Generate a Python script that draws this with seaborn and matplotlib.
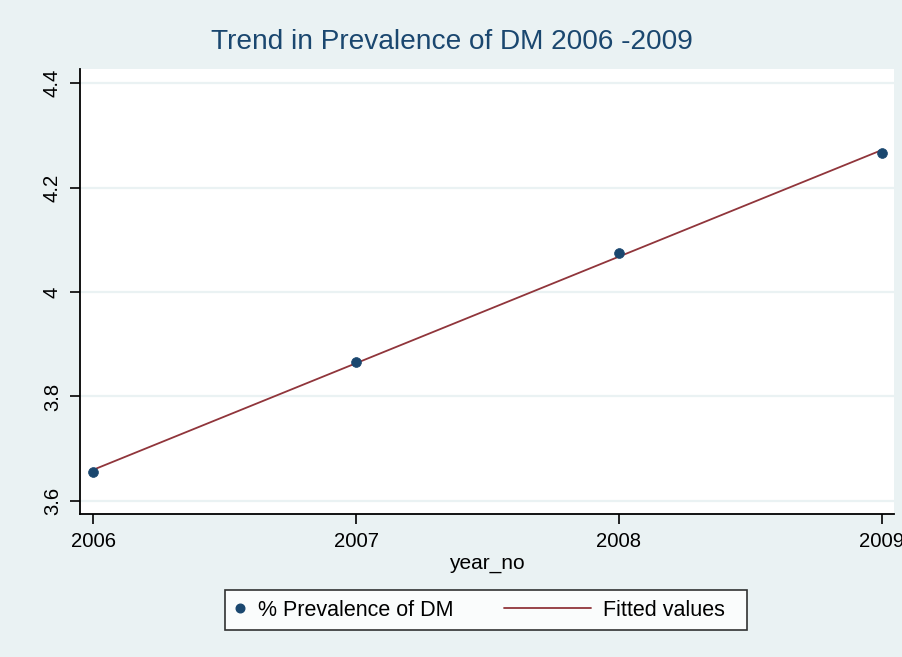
import matplotlib
matplotlib.use("Agg")
import matplotlib.pyplot as plt
import seaborn as sns
import numpy as np
import pandas as pd
from matplotlib.lines import Line2D
from matplotlib.legend_handler import HandlerLine2D

years = [2006, 2007, 2008, 2009]
prevalence = [3.656, 3.866, 4.074, 4.267]
y_ticks = [3.6, 3.8, 4.0, 4.2, 4.4]
y_tick_labels = ["3.6", "3.8", "4", "4.2", "4.4"]
x_ticks = [2006, 2007, 2008, 2009]
legend_labels = ["% Prevalence of DM", "Fitted values"]

BG = "#EAF2F3"
NAVY = "#1A476F"
MAROON = "#90353B"

sns.set_theme(style="white")
plt.rcParams["font.family"] = ["Liberation Sans", "DejaVu Sans"]
plt.rcParams["text.color"] = "black"
plt.rcParams["axes.labelcolor"] = "black"
plt.rcParams["xtick.color"] = "black"
plt.rcParams["ytick.color"] = "black"

df = pd.DataFrame({"year_no": years, "prev": prevalence})

fig = plt.figure(figsize=(9.03, 6.57), dpi=100, facecolor=BG)
ax = fig.add_axes([80 / 903, 1 - 514 / 657, (894 - 80) / 903, (514 - 69) / 657])
ax.set_facecolor("white")

for yt in y_ticks:
    ax.axhline(yt, color=BG, lw=1.6, zorder=0)

sns.regplot(data=df, x="year_no", y="prev", scatter=False, ci=None, ax=ax,
            line_kws={"color": MAROON, "lw": 1.3, "zorder": 2})
sns.scatterplot(data=df, x="year_no", y="prev", ax=ax, color=NAVY, s=50,
                edgecolor=NAVY, linewidth=0.5, zorder=3)

ax.set_xlim(2005.95, 2009.046)
ax.set_ylim(3.575, 4.427)
ax.set_xticks(x_ticks)
ax.set_xticklabels([str(x) for x in x_ticks], fontsize=14.6)
ax.set_yticks(y_ticks)
ax.set_yticklabels(y_tick_labels, fontsize=14.6, rotation=90, va="center")
ax.tick_params(axis="both", direction="out", length=7, width=1.2, color="black",
               labelcolor="black", bottom=True, left=True, pad=6)
for side in ["top", "right"]:
    ax.spines[side].set_visible(False)
for side in ["left", "bottom"]:
    ax.spines[side].set_color("black")
    ax.spines[side].set_linewidth(1.3)
ax.set_xlabel("year_no", fontsize=15, labelpad=2, color="black")
ax.set_ylabel("")

fig.text(0.5, 1 - 42 / 657, "Trend in Prevalence of DM 2006 -2009",
         ha="center", va="center", fontsize=20.2, color=NAVY)


class LongLineHandler(HandlerLine2D):
    def create_artists(self, legend, orig_handle, xdescent, ydescent, width,
                       height, fontsize, trans):
        y = (height - ydescent) / 2.0
        line = Line2D([-xdescent - 3.52 * fontsize, -xdescent + width], [y, y],
                      color=MAROON, lw=1.3)
        line.set_transform(trans)
        return [line]


class LeftMarkerHandler(HandlerLine2D):
    def create_artists(self, legend, orig_handle, xdescent, ydescent, width,
                       height, fontsize, trans):
        y = (height - ydescent) / 2.0
        m = Line2D([-xdescent + 0.25 * fontsize], [y], marker="o", color=NAVY,
                   linestyle="none", markersize=6.2)
        m.set_transform(trans)
        return [m]


h1 = Line2D([], [], marker="o", color=NAVY, linestyle="none", markersize=6.2)
h2 = Line2D([], [], color=MAROON, lw=1.3)
leg = fig.legend([h1, h2], [legend_labels[0], legend_labels[1] + "  "],
                 loc="center", bbox_to_anchor=(486 / 903, 1 - 610 / 657),
                 ncol=2, fontsize=15.5, frameon=True, fancybox=False,
                 handlelength=0.48, handletextpad=0.6, columnspacing=5.89,
                 borderpad=0.45, labelcolor="black",
                 handler_map={h1: LeftMarkerHandler(), h2: LongLineHandler()})
leg.get_frame().set_edgecolor("black")
leg.get_frame().set_linewidth(1.2)
leg.get_frame().set_facecolor("white")

fig.savefig("out.png", dpi=100, facecolor=BG)
